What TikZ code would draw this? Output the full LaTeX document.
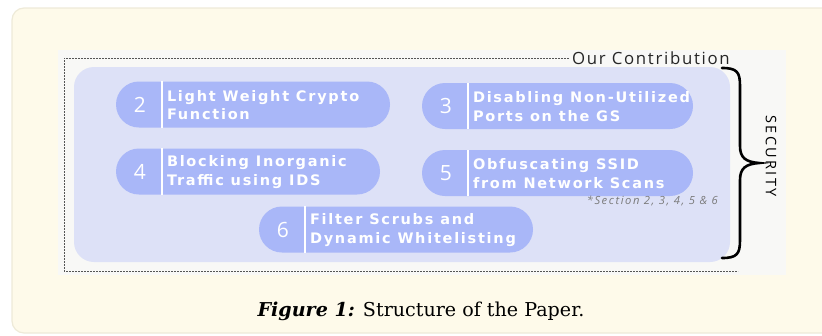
\documentclass[tikz,border=0pt]{standalone}
\usepackage{fontspec}
\setmainfont{DejaVu Serif}
\newfontfamily\pillfont[LetterSpace=12]{DejaVu Sans}
\newfontfamily\numfont{Open Sans}
\newfontfamily\lblfont[LetterSpace=10]{Open Sans}
\newfontfamily\secfont[LetterSpace=16]{Open Sans}
\newfontfamily\notefont[LetterSpace=14]{Open Sans}
\usetikzlibrary{calc}
\definecolor{cream}{HTML}{FEFAEA}
\definecolor{creamedge}{HTML}{EEEAD8}
\definecolor{panel}{HTML}{F8F8F6}
\definecolor{bluebg}{HTML}{DDE1F7}
\definecolor{pillc}{HTML}{A9B7F8}
\definecolor{dashc}{HTML}{555555}
\definecolor{notec}{HTML}{7A7A7A}
\tikzset{
  pillbox/.style={fill=pillc, rounded corners=23pt, inner sep=0pt, minimum height=46pt},
  numtxt/.style={text=white, font=\numfont\fontsize{21}{21}\selectfont, inner sep=0pt},
  pilltxt/.style={text=white, anchor=west, align=left, inner sep=0pt,
     font=\pillfont\bfseries\fontsize{14.5}{18.5}\selectfont},
  divider/.style={white, line width=2pt},
}
\newcommand\mkpill[5]{% name, center, width, number, text
  \node[pillbox, minimum width=#3pt] (#1) at (#2) {};
  \node[numtxt] (#1n) at ($(#1.west)+(24,0)$) {#4};
  \draw[divider] ($(#1.north west)+(46,0)$) -- ($(#1.south west)+(46,0)$);
  \node[pilltxt] (#1t) at ($(#1.west)+(51,0.5)$) {#5};
}
\begin{document}
\begin{tikzpicture}[x=1pt,y=-1pt]
\useasboundingbox (0,0) rectangle (822,335);
\draw[creamedge, fill=cream, line width=1.2pt, rounded corners=12pt] (12,8) rectangle (850,333);
\fill[panel] (58,50) rectangle (786,275);
\fill[bluebg, rounded corners=20pt] (74,67) rectangle (730,262);
\node[anchor=west, inner sep=0pt, text=black!85, font=\lblfont\fontsize{16.8}{16.8}\selectfont] (contrib) at (572,58) {Our Contribution};
\draw[dashc, line width=0.7pt, dash pattern=on 2pt off 1pt] ([xshift=-3pt]contrib.west) -- (64,58) -- (64,271) -- (738,271);
\mkpill{p2}{253,104.5}{274}{2}{Light Weight Crypto\\Function}
\mkpill{p3}{557.5,106}{271}{3}{Disabling Non-Utilized\\Ports on the GS}
\mkpill{p4}{248,171.5}{264}{4}{Blocking Inorganic\\Traffic using IDS}
\mkpill{p5}{557.5,173}{271}{5}{Obfuscating SSID\\from Network Scans}
\mkpill{p6}{396,229.5}{274}{6}{Filter Scrubs and\\Dynamic Whitelisting}
\node[anchor=east, inner sep=0pt, text=notec, font=\notefont\itshape\fontsize{11.2}{11.2}\selectfont] (note) at (718,201) {*Section 2, 3, 4, 5 \& 6};
\draw[black, line width=2.6pt, line cap=round]
  (722,68) .. controls (737,68) and (740,72) .. (740,86) -- (740,146)
  .. controls (740,158) and (746,162) .. (759,163)
  .. controls (746,164) and (740,168) .. (740,180) -- (740,240)
  .. controls (740,254) and (737,258) .. (722,258);
\node[rotate=-90, inner sep=0pt, text=black, font=\secfont\fontsize{14.5}{14.5}\selectfont] (sec) at (771,156) {SECURITY};
\node[anchor=base, inner sep=0pt, font=\fontsize{19.1}{19.1}\selectfont] (cap) at (421,316) {\textbf{\textit{Figure 1:}} Structure of the Paper.};
\end{tikzpicture}
\end{document}
